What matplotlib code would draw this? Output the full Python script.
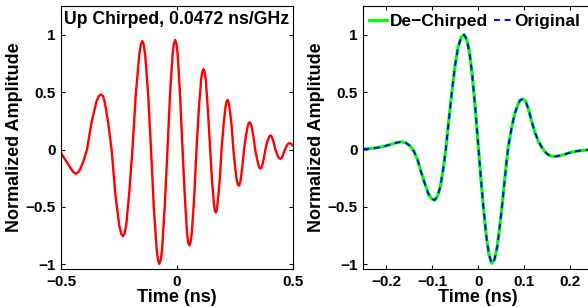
import matplotlib
matplotlib.use('Agg')
import matplotlib.pyplot as plt

# up chirped pulse
t_chirp = [-0.500, -0.478, -0.456, -0.445, -0.435, -0.427, -0.419, -0.404, -0.388, -0.368,
           -0.347, -0.337, -0.327, -0.319, -0.312, -0.297, -0.282, -0.266, -0.249, -0.241,
           -0.233, -0.226, -0.219, -0.206, -0.192, -0.178, -0.163, -0.156, -0.149, -0.143,
           -0.137, -0.124, -0.112, -0.100, -0.088, -0.082, -0.076, -0.070, -0.064, -0.053,
           -0.041, -0.030, -0.019, -0.0135, -0.008, -0.0025, 0.003, 0.013, 0.024, 0.034,
           0.043, 0.048, 0.053, 0.0585, 0.064, 0.074, 0.084, 0.094, 0.104, 0.109,
           0.114, 0.119, 0.124, 0.133, 0.143, 0.151, 0.159, 0.163, 0.167, 0.171,
           0.175, 0.184, 0.192, 0.201, 0.209, 0.2135, 0.218, 0.222, 0.226, 0.235,
           0.243, 0.251, 0.258, 0.262, 0.266, 0.270, 0.274, 0.281, 0.289, 0.297,
           0.305, 0.309, 0.313, 0.317, 0.321, 0.329, 0.337, 0.345, 0.352, 0.356,
           0.360, 0.3635, 0.367, 0.374, 0.381, 0.388, 0.396, 0.3995, 0.403, 0.4065,
           0.410, 0.417, 0.424, 0.431, 0.438, 0.445, 0.452, 0.458, 0.465, 0.472,
           0.478, 0.485, 0.492, 0.500]
y_chirp = [-0.03, -0.10, -0.17, -0.20, -0.21, -0.20, -0.18, -0.105, 0.0, 0.24,
           0.42, 0.465, 0.48, 0.465, 0.42, 0.24, 0.0, -0.38, -0.66, -0.73,
           -0.755, -0.73, -0.66, -0.38, 0.0, 0.47, 0.82, 0.913, 0.945, 0.913,
           0.82, 0.47, 0.0, -0.50, -0.86, -0.96, -0.995, -0.96, -0.86, -0.50,
           0.0, 0.48, 0.83, 0.922, 0.955, 0.922, 0.83, 0.48, 0.0, -0.42,
           -0.72, -0.807, -0.835, -0.807, -0.72, -0.42, 0.0, 0.35, 0.61, 0.676,
           0.70, 0.676, 0.61, 0.35, 0.0, -0.27, -0.47, -0.53, -0.548, -0.53,
           -0.47, -0.27, 0.0, 0.22, 0.37, 0.417, 0.432, 0.417, 0.37, 0.22,
           0.0, -0.16, -0.27, -0.304, -0.315, -0.304, -0.27, -0.16, 0.0, 0.12,
           0.205, 0.229, 0.237, 0.229, 0.205, 0.12, 0.0, -0.08, -0.143, -0.159,
           -0.165, -0.159, -0.143, -0.08, 0.0, 0.06, 0.105, 0.118, 0.122, 0.118,
           0.105, 0.06, 0.0, -0.04, -0.07, -0.082, -0.07, -0.04, 0.0, 0.028,
           0.049, 0.056, 0.05, 0.035]

# original pulse and de-chirped result (they overlap)
t_orig = [-0.250, -0.235, -0.220, -0.205, -0.190, -0.178, -0.167, -0.157, -0.148, -0.140,
          -0.132, -0.124, -0.116, -0.108, -0.101, -0.095, -0.089, -0.083, -0.077, -0.071,
          -0.065, -0.058, -0.051, -0.044, -0.037, -0.031, -0.025, -0.019, -0.013, -0.007,
          -0.001, 0.005, 0.011, 0.017, 0.023, 0.029, 0.035, 0.041, 0.047, 0.053,
          0.059, 0.065, 0.072, 0.079, 0.086, 0.091, 0.097, 0.103, 0.110, 0.117,
          0.124, 0.131, 0.138, 0.145, 0.152, 0.160, 0.167, 0.175, 0.185, 0.200,
          0.215, 0.230, 0.250]
y_orig = [0.003, 0.008, 0.016, 0.028, 0.045, 0.060, 0.067, 0.058, 0.030, -0.015,
          -0.09, -0.20, -0.30, -0.39, -0.43, -0.44, -0.41, -0.33, -0.19, -0.01,
          0.22, 0.48, 0.72, 0.89, 0.98, 1.0, 0.96, 0.84, 0.64, 0.38,
          0.08, -0.22, -0.50, -0.74, -0.91, -0.99, -0.96, -0.85, -0.66, -0.44,
          -0.20, 0.02, 0.18, 0.31, 0.39, 0.43, 0.44, 0.42, 0.34, 0.23,
          0.14, 0.07, 0.02, -0.02, -0.045, -0.057, -0.06, -0.055, -0.045, -0.026,
          -0.013, -0.006, 0.0]
t_dechirp = list(t_orig)
y_dechirp = list(y_orig)

yticks = [-1, -0.5, 0, 0.5, 1]
ytick_labels = ['\u22121', '\u22120.5', '0', '0.5', '1']
xticks_left = [-0.5, 0, 0.5]
xtick_labels_left = ['\u22120.5', '0', '0.5']
xticks_right = [-0.2, -0.1, 0, 0.1, 0.2]
xtick_labels_right = ['\u22120.2', '\u22120.1', '0', '0.1', '0.2']

plt.rcParams['font.family'] = ['Liberation Sans', 'DejaVu Sans']
plt.rcParams['font.weight'] = 'bold'

fig = plt.figure(figsize=(5.88, 3.07), dpi=100)
ax1 = fig.add_axes([61 / 588, 38 / 307, 232 / 588, 263 / 307])
ax2 = fig.add_axes([363.3 / 588, 38 / 307, 230 / 588, 263 / 307])

ax1.plot(t_chirp, y_chirp, color='red', lw=1.7, solid_joinstyle='round')
ax1.set_xlim(-0.5, 0.5)
ax1.set_xticks(xticks_left)
ax1.set_xticklabels(xtick_labels_left)
ax1.text(0.5, 1 - 14 / 263, 'Up Chirped, 0.0472 ns/GHz', transform=ax1.transAxes,
         ha='center', va='center', fontsize=12.7, fontweight='bold')

ax2.plot(t_dechirp, y_dechirp, color=(0, 1, 0), lw=2.3, solid_joinstyle='round',
         label='De\u2212Chirped')
ax2.plot(t_orig, y_orig, color=(0, 0, 1), lw=1.4, ls=(0, (3, 2.5)), label='Original')
ax2.set_xlim(-0.25, 0.25)
ax2.set_xticks(xticks_right)
ax2.set_xticklabels(xtick_labels_right)
ax2.legend(loc='center', bbox_to_anchor=(0.485, 1 - 15 / 263), ncol=2, frameon=False,
           handlelength=1.0, handletextpad=0.15, columnspacing=0.4,
           prop={'size': 12.5, 'weight': 'bold'}, borderpad=0, borderaxespad=0)

for ax in (ax1, ax2):
    ax.set_ylim(-1.04, 1.25)
    ax.set_yticks(yticks)
    ax.set_yticklabels(ytick_labels)
    ax.tick_params(direction='in', top=True, right=True, length=3, width=0.8,
                   labelsize=11, pad=4)
    ax.set_xlabel('Time (ns)', fontsize=13, fontweight='bold', labelpad=0)
    ax.set_ylabel('Normalized Amplitude', fontsize=13, fontweight='bold', labelpad=2)
    for s in ax.spines.values():
        s.set_linewidth(0.8)

fig.savefig('out.png', dpi=100)
